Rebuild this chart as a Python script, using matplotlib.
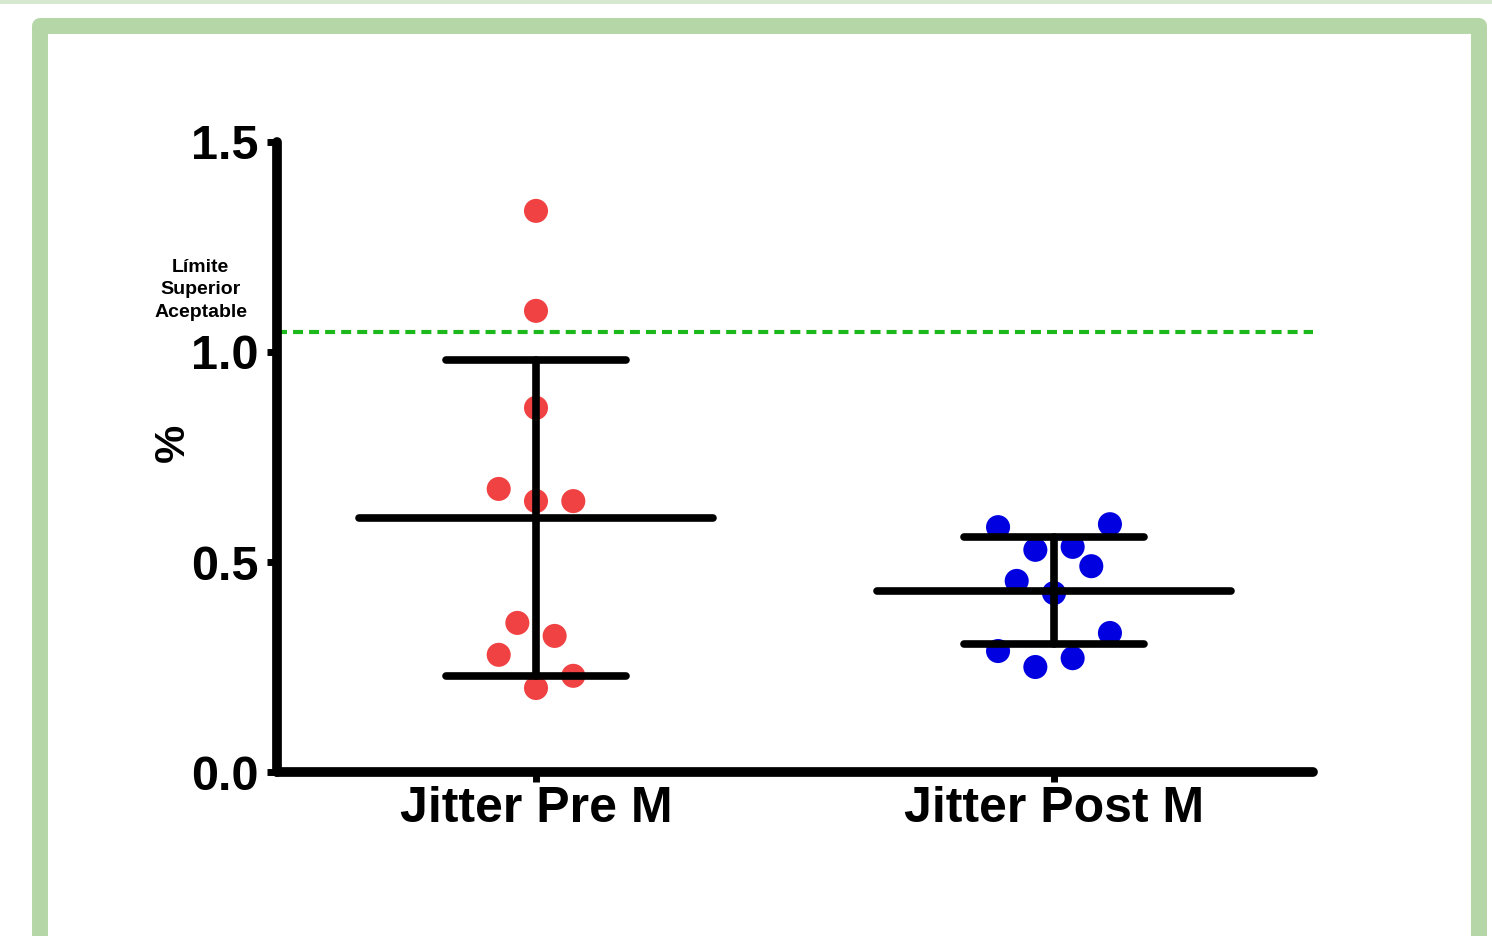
import numpy as np
from matplotlib import pyplot as plt
from matplotlib.patches import Rectangle

# datos
grupos = ['Jitter Pre M', 'Jitter Post M']
pre_vals = [1.336, 1.098, 0.867, 0.674, 0.645, 0.645, 0.355, 0.324, 0.279, 0.229, 0.200]
post_vals = [0.583, 0.590, 0.529, 0.536, 0.490, 0.455, 0.426, 0.331, 0.288, 0.271, 0.250]
# desplazamiento horizontal de cada punto (en pasos)
pre_jit = [0, 0, 0, -2, 0, 2, -1, 1, -2, 2, 0]
post_jit = [-3, 3, -1, 1, 2, -2, 0, 3, -3, 1, -1]
limite = 1.048
y_ticks = [0.0, 0.5, 1.0, 1.5]
y_tick_labels = ['0.0', '0.5', '1.0', '1.5']

plt.rcParams['font.family'] = ['Liberation Sans', 'DejaVu Sans']
plt.rcParams['font.weight'] = 'bold'

fig = plt.figure(figsize=(14.92, 9.36), dpi=100)
ax = fig.add_axes([277/1492, 1 - 772/936, 1036/1492, 630/936])

# marco verde
fig.add_artist(Rectangle((0, 1 - 4/936), 1, 4/936, transform=fig.transFigure,
                         facecolor='#d7e8d0', edgecolor='none'))
fig.add_artist(Rectangle((40/1492, -0.1), 1439/1492, 1.1 - 26/936, transform=fig.transFigure,
                         facecolor='none', edgecolor='#b5d7a7', linewidth=11.5, joinstyle='round'))

paso = 0.036
colores = ['#f04242', '#0000e0']
for i, (vals, jit) in enumerate([(pre_vals, pre_jit), (post_vals, post_jit)]):
    vals = np.array(vals)
    xs = i + np.array(jit) * paso
    ax.scatter(xs, vals, s=300, color=colores[i], edgecolors='none', zorder=2)
    m = vals.mean()
    sd = vals.std(ddof=1)
    kw = dict(color='black', linewidth=5.5, solid_capstyle='round', zorder=3)
    ax.plot([i - 0.342, i + 0.342], [m, m], **kw)
    ax.plot([i - 0.174, i + 0.174], [m + sd, m + sd], **kw)
    ax.plot([i - 0.174, i + 0.174], [m - sd, m - sd], **kw)
    ax.plot([i, i], [m - sd, m + sd], **kw)

ax.plot([-0.5, 1.5], [limite, limite], color='#1cb81c', linewidth=3,
        dashes=(2.4, 1.45), zorder=1)
ax.text(-0.647, 1.148, 'Límite\nSuperior\nAceptable', ha='center', va='center',
        fontsize=14, fontweight='bold', linespacing=1.4, multialignment='center')

ax.set_xlim(-0.5, 1.5)
ax.set_ylim(0, 1.5)
ax.set_yticks(y_ticks)
ax.set_yticklabels(y_tick_labels)
ax.set_xticks([0, 1])
ax.set_xticklabels(grupos)
ax.tick_params(axis='both', width=5, length=7, color='black')
ax.tick_params(axis='y', pad=6, labelsize=35)
ax.tick_params(axis='x', pad=3, labelsize=36)
for lab in ax.get_xticklabels() + ax.get_yticklabels():
    lab.set_fontweight('bold')
ax.set_ylabel('%', fontsize=31, fontweight='bold')
ax.yaxis.set_label_coords(-0.081, 0.522)

for s in ['top', 'right']:
    ax.spines[s].set_visible(False)
for s in ['left', 'bottom']:
    ax.spines[s].set_linewidth(7)
    ax.spines[s].set_capstyle('round')

fig.savefig('out.png', dpi=100)
